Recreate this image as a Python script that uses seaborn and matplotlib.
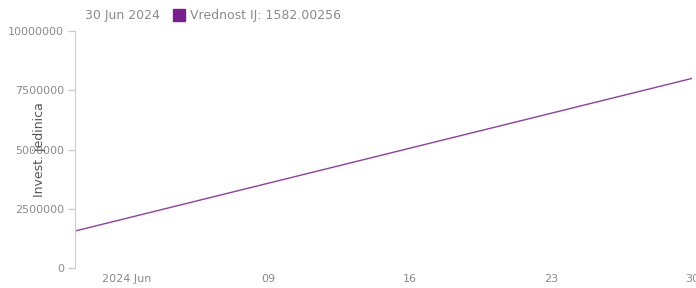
import pandas as pd
import numpy as np
import matplotlib
matplotlib.use('Agg')
from matplotlib import pyplot as plt
import matplotlib.dates as mdates
import seaborn as sb

# data
dates = ['2024-05-30 10:00', '2024-06-30 00:00']
values = [1560000, 8000000]
y_ticks = [0, 2500000, 5000000, 7500000, 10000000]
x_ticks = ['2024-06-02', '2024-06-09', '2024-06-16', '2024-06-23', '2024-06-30']
x_labels = ['2024 Jun', '09', '16', '23', '30']

df = pd.DataFrame({'date': pd.to_datetime(dates), 'value': values})

sb.set_style('white')
plt.rcParams['font.family'] = ['DejaVu Sans']
grey = '#8a8a8a'

fig = plt.figure(figsize=(6.96, 2.88), dpi=100)
ax = fig.add_axes([75 / 696, 20 / 288, 617 / 696, 237 / 288])
sb.lineplot(data=df, x='date', y='value', color='#8e3fa3', linewidth=1, ax=ax)

ax.set_xlim(df['date'].iloc[0], df['date'].iloc[-1])
ax.set_ylim(0, 10000000)
ax.set_yticks(y_ticks)
ax.set_yticklabels([str(v) for v in y_ticks], color=grey, fontsize=8)
ax.set_xticks(pd.to_datetime(x_ticks))
ax.set_xticklabels(x_labels, color=grey, fontsize=8)
ax.tick_params(axis='y', left=True, length=5, color='#cccccc', width=1, pad=3)
ax.tick_params(axis='x', bottom=False, length=0, pad=4)
for s in ['top', 'right', 'bottom']:
    ax.spines[s].set_visible(False)
ax.spines['left'].set_color('#cccccc')
ax.set_xlabel('')
ax.set_ylabel('Invest. jedinica', color='#555555', fontsize=9)
ax.yaxis.set_label_coords(-0.047, 0.5)

# legend line on top
fig.text(85 / 696, 1 - 15 / 288, '30 Jun 2024', color=grey, fontsize=9, va='center')
fig.patches.append(plt.Rectangle((173 / 696, 1 - 21 / 288), 12 / 696, 12 / 288,
                                 transform=fig.transFigure, color='#7b1f8e'))
fig.text(190 / 696, 1 - 15 / 288, 'Vrednost IJ: 1582.00256', color=grey, fontsize=9, va='center')

plt.savefig('out.png', dpi=100)
